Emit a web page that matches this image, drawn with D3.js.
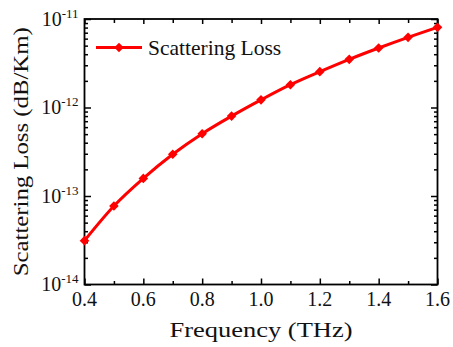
<!DOCTYPE html>
<html>
<head>
<meta charset="utf-8">
<script src="https://cdn.jsdelivr.net/npm/d3@7"></script>
<style>
  html, body { margin: 0; padding: 0; background: #fff; }
  svg { display: block; font-family: "Liberation Serif", "Times New Roman", serif; }
</style>
</head>
<body>
<svg id="chart" width="453" height="347"></svg>
<script>
// ---- data ----
const frequency = [0.4, 0.5, 0.6, 0.7, 0.8, 0.9, 1.0, 1.1, 1.2, 1.3, 1.4, 1.5, 1.6];
const scatteringLoss = [3.13e-14, 7.7e-14, 1.58e-13, 2.96e-13, 5.06e-13, 8.0e-13, 1.22e-12, 1.81e-12, 2.54e-12, 3.5e-12, 4.7e-12, 6.2e-12, 8.05e-12];
const xTickValues = [0.4, 0.6, 0.8, 1.0, 1.2, 1.4, 1.6];
const xMinorValues = [0.5, 0.7, 0.9, 1.1, 1.3, 1.5];
const yTickExponents = [-14, -13, -12, -11];
const seriesName = "Scattering Loss";
const xTitle = "Frequency (THz)";
const yTitle = "Scattering Loss (dB/Km)";

// ---- layout ----
const L = 84.5, R = 437.5, T = 19, B = 284.5;
const svg = d3.select("#chart");
const x = d3.scaleLinear().domain([0.4, 1.6]).range([L, R]);
const y = d3.scaleLog().domain([1e-14, 1e-11]).range([B, T]);

const yMajor = yTickExponents.map(e => Math.pow(10, e));
const yMinor = [];
yTickExponents.slice(0, -1).forEach(e => { for (let k = 2; k <= 9; k++) yMinor.push(k * Math.pow(10, e)); });

function styleAxis(g) {
  g.select(".domain").remove();
  g.selectAll("line").attr("stroke", "#000").attr("stroke-width", 1.5);
  g.selectAll("text").remove();
}

// bottom major / minor (inward)
svg.append("g").attr("transform", `translate(0,${B})`)
  .call(d3.axisBottom(x).tickValues(xTickValues).tickSize(-6)).call(styleAxis);
svg.append("g").attr("transform", `translate(0,${B})`)
  .call(d3.axisBottom(x).tickValues(xMinorValues).tickSize(-3.5)).call(styleAxis);
// top
svg.append("g").attr("transform", `translate(0,${T})`)
  .call(d3.axisTop(x).tickValues(xTickValues).tickSize(-5)).call(styleAxis);
svg.append("g").attr("transform", `translate(0,${T})`)
  .call(d3.axisTop(x).tickValues(xMinorValues).tickSize(-4)).call(styleAxis);
// left
svg.append("g").attr("transform", `translate(${L},0)`)
  .call(d3.axisLeft(y).tickValues(yMajor).tickSize(-6.5)).call(styleAxis);
svg.append("g").attr("transform", `translate(${L},0)`)
  .call(d3.axisLeft(y).tickValues(yMinor).tickSize(-3.5)).call(styleAxis);
// right
svg.append("g").attr("transform", `translate(${R},0)`)
  .call(d3.axisRight(y).tickValues(yMajor).tickSize(-6.5)).call(styleAxis);
svg.append("g").attr("transform", `translate(${R},0)`)
  .call(d3.axisRight(y).tickValues(yMinor).tickSize(-3.5)).call(styleAxis);

// frame
svg.append("rect").attr("x", L).attr("y", T).attr("width", R - L).attr("height", B - T)
  .attr("fill", "none").attr("stroke", "#000").attr("stroke-width", 1.8);

// x tick labels
svg.append("g").selectAll("text").data(xTickValues).join("text")
  .attr("x", d => x(d)).attr("y", B + 21.5)
  .attr("text-anchor", "middle").attr("font-size", 20).attr("fill", "#111")
  .text(d => d.toFixed(1));

// y tick labels (10^n)
const yl = svg.append("g").selectAll("text").data(yTickExponents).join("text")
  .attr("x", L - 6).attr("y", d => y(Math.pow(10, d)) + 6.5)
  .attr("text-anchor", "end").attr("fill", "#111");
yl.append("tspan").attr("font-size", 20).text("10");
yl.append("tspan").attr("font-size", 13).attr("dy", -8).text(d => String(d));

// axis titles
svg.append("text").attr("x", (L + R) / 2).attr("y", 337)
  .attr("text-anchor", "middle").attr("font-size", 22).attr("fill", "#111")
  .attr("textLength", 183).attr("lengthAdjust", "spacingAndGlyphs")
  .text(xTitle);
svg.append("text").attr("transform", `translate(27.5,${(T + B) / 2}) rotate(-90)`)
  .attr("text-anchor", "middle").attr("font-size", 22).attr("fill", "#111")
  .attr("textLength", 249).attr("lengthAdjust", "spacingAndGlyphs")
  .text(yTitle);

// series
const red = "#ff0000";
const line = d3.line().x((d, i) => x(frequency[i])).y(d => y(d)).curve(d3.curveMonotoneX);
svg.append("path").datum(scatteringLoss).attr("d", line)
  .attr("fill", "none").attr("stroke", red).attr("stroke-width", 3);
const diamond = "M0,-4.8L4.8,0L0,4.8L-4.8,0Z";
svg.append("g").selectAll("path").data(scatteringLoss).join("path")
  .attr("transform", (d, i) => `translate(${x(frequency[i])},${y(d)})`)
  .attr("d", diamond).attr("fill", red);

// legend
const lg = svg.append("g");
lg.append("line").attr("x1", 96).attr("x2", 142).attr("y1", 47.5).attr("y2", 47.5)
  .attr("stroke", red).attr("stroke-width", 3);
lg.append("path").attr("transform", "translate(119,47.5)").attr("d", diamond).attr("fill", red);
lg.append("text").attr("x", 148).attr("y", 54.5).attr("font-size", 21.5).attr("fill", "#111").text(seriesName);
</script>
</body>
</html>
